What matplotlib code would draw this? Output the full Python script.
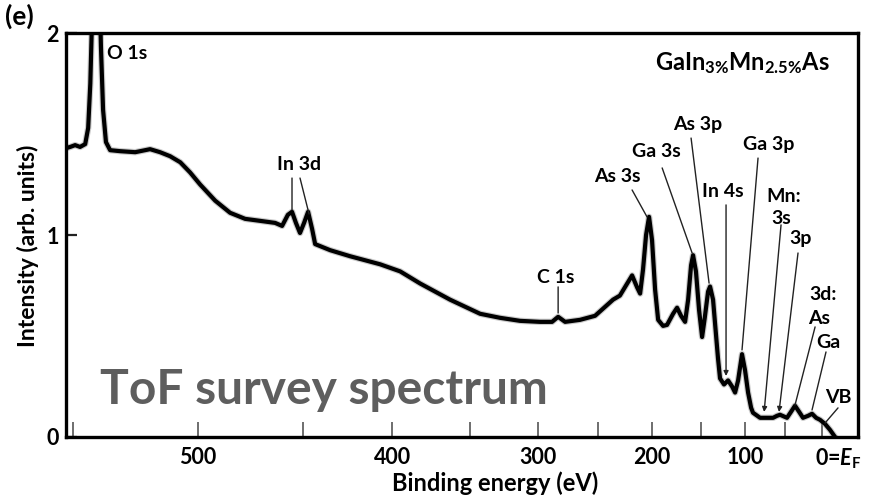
import numpy as np
import matplotlib
matplotlib.use("Agg")
import matplotlib.pyplot as plt
from matplotlib.ticker import FixedLocator, NullFormatter

plt.rcParams["font.family"] = ["Lato", "DejaVu Sans"]
plt.rcParams["font.weight"] = "bold"
plt.rcParams["mathtext.fontset"] = "custom"
plt.rcParams["mathtext.rm"] = "Lato:bold"
plt.rcParams["mathtext.bf"] = "Lato:bold"
plt.rcParams["mathtext.it"] = "Lato:bold:italic"

# Survey trace: binding energy (eV) and intensity (arb. units)
binding_energy = [
    552.5, 551.0, 549.2, 547.4, 545.5, 544.4, 543.6, 542.9, 541.1, 540.3,
    539.6, 538.8, 537.7, 536.1, 532.2, 526.3, 522.3, 520.3, 516.2, 512.0,
    507.7, 503.5, 499.1, 492.4, 485.6, 478.6, 471.4, 464.1, 460.6, 457.7,
    455.6, 453.6, 451.5, 449.4, 447.3, 445.2, 443.6, 435.6, 424.6, 407.3,
    395.3, 382.9, 363.5, 342.9, 328.6, 313.8, 298.4, 288.8, 283.9, 278.2,
    265.7, 252.8, 236.8, 230.6, 225.0, 219.3, 214.5, 211.7, 208.9, 206.0,
    203.1, 200.2, 197.2, 194.2, 189.3, 185.3, 179.2, 175.1, 171.0, 166.8,
    163.6, 160.5, 158.4, 155.3, 152.0, 148.7, 145.8, 142.2, 140.0, 136.7,
    133.4, 131.2, 128.9, 124.4, 119.8, 115.2, 111.7, 108.2, 103.6, 100.0,
    96.4, 92.8, 90.5, 81.9, 65.7, 60.7, 56.9, 47.9, 42.6, 37.4,
    32.0, 26.7, 19.8, 14.4, 8.8, 3.3, -3.7, -10.9, -18.1,
]
intensity = [
    1.430, 1.436, 1.445, 1.436, 1.450, 1.530, 1.750, 2.100, 3.400, 2.300,
    1.930, 1.620, 1.460, 1.420, 1.415, 1.410, 1.420, 1.425, 1.410, 1.390,
    1.360, 1.310, 1.250, 1.170, 1.110, 1.080, 1.070, 1.060, 1.045, 1.100,
    1.115, 1.060, 1.010, 1.060, 1.115, 1.030, 0.955, 0.925, 0.895, 0.855,
    0.820, 0.760, 0.680, 0.610, 0.590, 0.575, 0.570, 0.570, 0.595, 0.570,
    0.580, 0.600, 0.680, 0.700, 0.750, 0.800, 0.740, 0.710, 0.830, 1.000,
    1.090, 0.975, 0.730, 0.580, 0.550, 0.555, 0.610, 0.640, 0.600, 0.570,
    0.680, 0.850, 0.900, 0.820, 0.630, 0.495, 0.590, 0.720, 0.745, 0.680,
    0.505, 0.390, 0.290, 0.260, 0.280, 0.250, 0.220, 0.280, 0.410, 0.330,
    0.220, 0.145, 0.120, 0.095, 0.095, 0.105, 0.110, 0.095, 0.125, 0.155,
    0.125, 0.095, 0.105, 0.115, 0.095, 0.085, 0.065, 0.035, 0.000,
]

x_major_ticks = [500, 400, 300, 200, 100]
x_minor_ticks = [550, 450, 350, 250, 150, 50, 0]
y_ticks = [0, 1, 2]

# Time-of-flight axis: position is linear in 1/sqrt(E_kin)
E_REF = 925.0


def tof_forward(be):
    be = np.asarray(be, dtype=float)
    return 1.0 / np.sqrt(np.clip(E_REF - be, 1e-6, None))


def tof_inverse(t):
    t = np.asarray(t, dtype=float)
    return E_REF - 1.0 / np.clip(t, 1e-9, None) ** 2


fig = plt.figure(figsize=(8.71, 4.98), dpi=100)
ax = fig.add_axes([0.0758, 0.1225, 0.9093, 0.8112])
ax.set_xscale("function", functions=(tof_forward, tof_inverse))
ax.set_xlim(552.5, -52.3)
ax.set_ylim(0, 2)

ax.plot(binding_energy, intensity, color="0.55", lw=4.6, alpha=0.45,
        solid_joinstyle="round", zorder=2)
ax.plot(binding_energy, intensity, color="black", lw=3.0,
        solid_joinstyle="round", zorder=3)

for side in ["left", "right", "top", "bottom"]:
    ax.spines[side].set_linewidth(2.4)

ax.xaxis.set_major_locator(FixedLocator(x_major_ticks))
ax.xaxis.set_minor_locator(FixedLocator(x_minor_ticks))
ax.xaxis.set_minor_formatter(NullFormatter())
ax.set_xticks(x_major_ticks, [str(v) for v in x_major_ticks])
ax.tick_params(axis="x", which="both", direction="in", length=10.5,
               width=1.2, color="#555555", pad=7, labelsize=15.5)
ax.set_yticks(y_ticks, [str(v) for v in y_ticks])
ax.tick_params(axis="y", direction="in", length=8, width=1.6,
               color="#222222", pad=5, labelsize=15.5)

# Fermi level label under the zero of the energy scale
ax.annotate("0=$\\mathit{E}_\\mathrm{F}$", xy=(0, 0),
            xycoords=("data", "axes fraction"), xytext=(-5, -7),
            textcoords="offset points", ha="left", va="top", fontsize=15.5,
            annotation_clip=False)

ax.set_xlabel("Binding energy (eV)", fontsize=17, fontweight="bold")
ax.xaxis.set_label_coords(0.542, -0.086)
ax.set_ylabel("Intensity (arb. units)", fontsize=16.5, fontweight="bold")
ax.yaxis.set_label_coords(-0.034, 0.473)

fig.text(0.006, 0.992, "(e)", fontsize=19, fontweight="bold",
         ha="left", va="top")

ax.text(0.9646, 0.908, "GaIn$_{3\\%}$Mn$_{2.5\\%}$As", transform=ax.transAxes,
        fontsize=17, ha="right", va="baseline")

ax.text(0.043, 0.082, "ToF survey spectrum", transform=ax.transAxes,
        fontsize=34.5, color="#5e5e5e", ha="left", va="baseline")

# Peak labels
labels = [
    ("O 1s", 537.3, 1.90, "left"),
    ("In 3d", 452.0, 1.347, "center"),
    ("C 1s", 285.5, 0.792, "center"),
    ("As 3s", 233.1, 1.292, "center"),
    ("Ga 3s", 196.2, 1.411, "center"),
    ("As 3p", 153.0, 1.545, "center"),
    ("In 4s", 125.5, 1.213, "center"),
    ("Ga 3p", 70.7, 1.446, "center"),
    ("Mn:", 51.8, 1.193, "center"),
    ("3s", 55.6, 1.084, "center"),
    ("3p", 30.7, 0.985, "center"),
    ("3d:", -0.9, 0.703, "center"),
    ("As", 4.7, 0.589, "center"),
    ("Ga", -8.0, 0.470, "center"),
    ("VB", -22.4, 0.198, "center"),
]
for text, xe, yi, ha in labels:
    ax.text(xe, yi, text, fontsize=14, ha=ha, va="center", zorder=5)

# Leader lines (start near label, end at the feature)
leaders = [
    ((455.6, 1.282), (455.6, 1.124), False),
    ((451.5, 1.282), (446.8, 1.104), False),
    ((283.9, 0.743), (283.9, 0.614), False),
    ((219.3, 1.223), (205.0, 1.089), False),
    ((190.2, 1.332), (159.4, 0.911), False),
    ((160.5, 1.480), (141.1, 0.762), False),
    ((122.1, 1.149), (122.1, 0.302), True),
    ((84.4, 1.381), (103.6, 0.431), False),
    ((55.6, 1.050), (76.9, 0.124), True),
    ((33.4, 0.911), (58.2, 0.124), True),
    ((10.2, 0.545), (37.4, 0.158), False),
    ((-5.1, 0.421), (14.4, 0.134), False),
    ((-22.4, 0.144), (-3.7, 0.069), False),
]
for start, end, arrow in leaders:
    style = "-|>" if arrow else "-"
    ax.annotate("", xy=end, xytext=start,
                arrowprops=dict(arrowstyle=style, lw=1.0, color="#222222",
                                mutation_scale=7, shrinkA=0, shrinkB=0),
                zorder=4)

fig.savefig("out.png", dpi=100)
